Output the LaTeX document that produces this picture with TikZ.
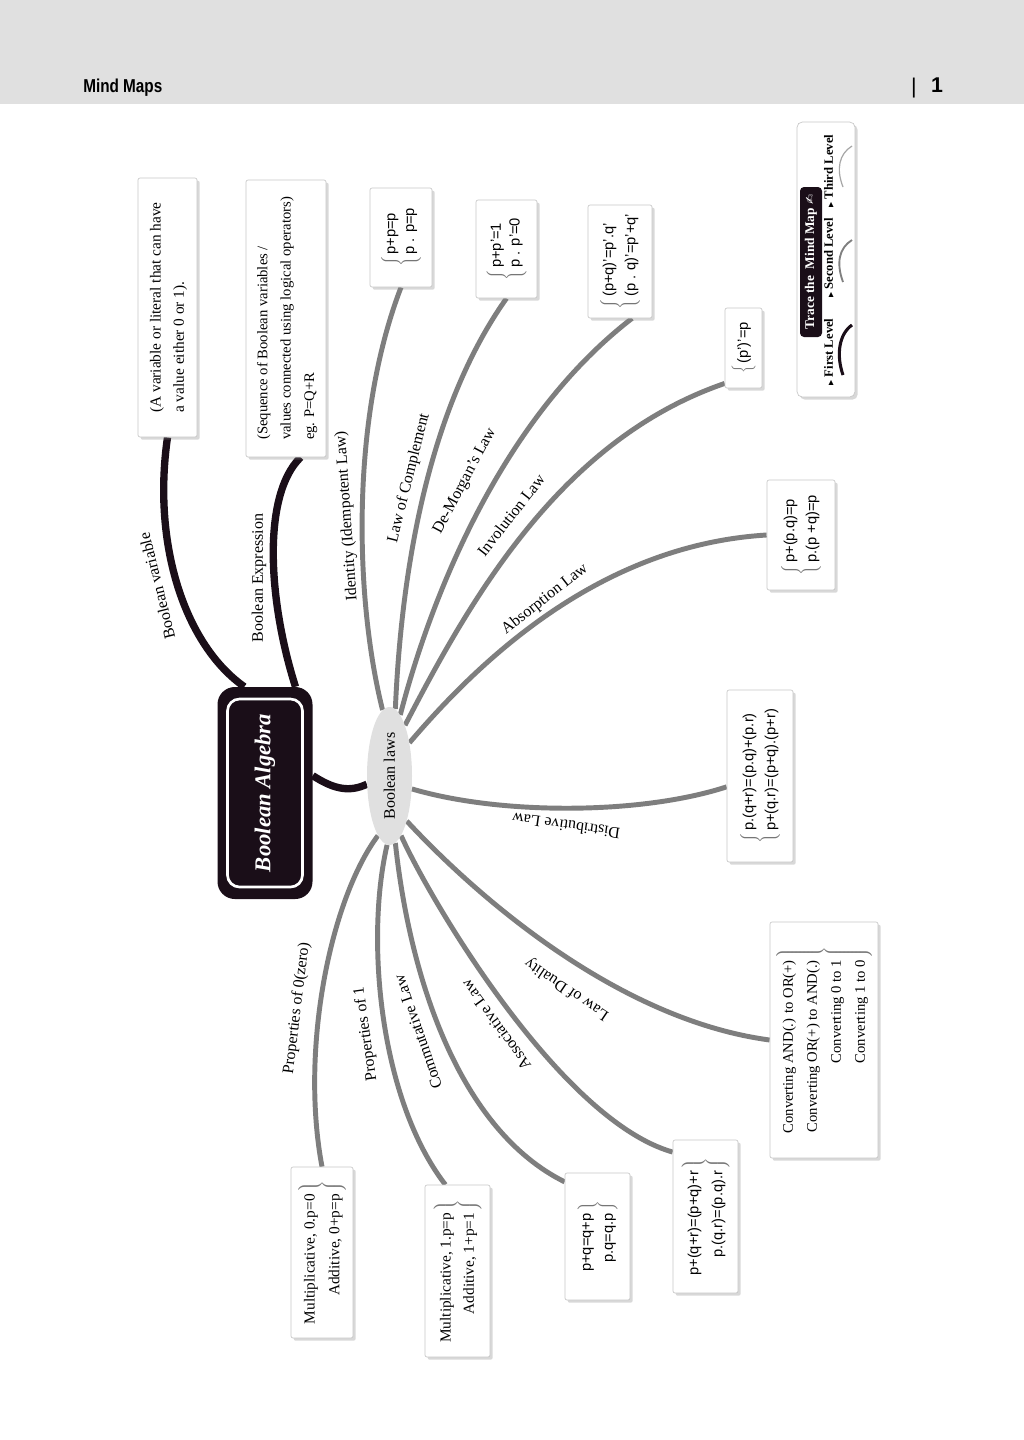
\documentclass[tikz,border=0pt]{standalone}
\usepackage{fontspec}
\setmainfont{Liberation Serif}
\setsansfont{Liberation Sans}
\newfontfamily\symfont{DejaVu Sans}
\usetikzlibrary{shapes.geometric,shadows,backgrounds}
\definecolor{hdr}{HTML}{E0E0E0}
\definecolor{ink}{HTML}{1A0E18}
\definecolor{lnk}{HTML}{7E7E7E}
\definecolor{brc}{HTML}{767676}
\newcommand{\lawL}[1]{\rotatebox{90}{\textcolor{brc}{$\left\{\vphantom{\begin{tabular}{l}#1\end{tabular}}\right.$}\begin{tabular}{@{}l@{}}#1\end{tabular}}}
\newcommand{\lawR}[1]{\rotatebox{90}{\begin{tabular}{@{}r@{}}#1\end{tabular}\textcolor{brc}{$\left.\vphantom{\begin{tabular}{r}#1\end{tabular}}\right\}$}}}
\newcommand{\txtL}[1]{\rotatebox{90}{\begin{tabular}{@{}l@{}}#1\end{tabular}}}
\tikzset{
  box/.style={draw=black!22, fill=white, line width=0.5pt, rounded corners=1.5pt, inner sep=0pt,
    drop shadow={shadow xshift=2pt, shadow yshift=-2pt, opacity=0.3}},
  serif/.style={font=\rmfamily\fontsize{11.5}{17.5}\selectfont},
  sans/.style={font=\sffamily\fontsize{11}{16.5}\selectfont},
  sanst/.style={font=\sffamily\fontsize{11}{14}\selectfont},
  glink/.style={draw=lnk, line width=3.7pt},
  blink/.style={draw=ink, line width=5.5pt},
  lbl/.style={font=\rmfamily\fontsize{12}{14}\selectfont, inner sep=1pt},
  lvl/.style={font=\rmfamily\bfseries\fontsize{9.5}{11}\selectfont, inner sep=0pt}
}
\begin{document}
\begin{tikzpicture}[x=0.75pt, y=-0.75pt]
\useasboundingbox (0,0) rectangle (1024,1440);

% ---------- header ----------
\node[font=\sffamily\bfseries\fontsize{14}{16}\selectfont, anchor=base west, inner sep=0pt] (mm) at (83,92) {\scalebox{0.82}[1]{Mind Maps}};
\node[font=\sffamily\fontsize{16}{18}\selectfont, anchor=base, inner sep=0pt] (bar) at (914,93) {|};
\node[font=\sffamily\bfseries\fontsize{16}{18}\selectfont, anchor=base, inner sep=0pt] (pn) at (937,92) {1};

% ---------- central nodes ----------
\node[fill=ink, rounded corners=13pt, minimum width=95*0.75pt, minimum height=212*0.75pt] (BA) at (265,793) {};
\node[fill=ink, draw=white, line width=2pt, rounded corners=9pt, minimum width=75*0.75pt, minimum height=188*0.75pt, text=white,
      font=\rmfamily\bfseries\itshape\fontsize{17}{19}\selectfont] (BAi) at (265,793) {\rotatebox{90}{Boolean Algebra}};
\node[ellipse, fill=hdr, minimum width=45*0.75pt, minimum height=138*0.75pt, inner sep=0pt, font=\rmfamily\fontsize{12}{14}\selectfont] (bl) at (389.5,776) {\rotatebox{90}{Boolean laws}};

% ---------- first level boxes ----------
\node[box, serif, minimum width=59*0.75pt, minimum height=259*0.75pt] (v) at (167.5,307.5) {\txtL{(A variable or literal that can have\\a value either 0 or 1).}};
\node[box, font=\rmfamily\fontsize{11}{17.5}\selectfont, minimum width=80*0.75pt, minimum height=277*0.75pt] (e) at (286,318.5) {\txtL{(Sequence of Boolean variables /\\values connected using logical operators)\\eg. P=Q+R}};

% ---------- law boxes ----------
\node[box, sanst, minimum width=62*0.75pt, minimum height=99*0.75pt]  (A) at (401,237.5) {\lawL{p+p=p\\p . p=p}};
\node[box, sanst, minimum width=61*0.75pt, minimum height=98*0.75pt]  (B) at (506.5,249) {\lawL{p+p'=1\\p . p'=0}};
\node[box, sans, minimum width=64*0.75pt, minimum height=113*0.75pt]  (C) at (620,261.5) {\lawL{(p+q)'=p'.q'\\(p . q)'=p'+q'}};
\node[box, sans, minimum width=37*0.75pt, minimum height=80*0.75pt]   (D) at (743.5,348) {\lawL{(p')'=p}};
\node[box, sans, minimum width=68*0.75pt, minimum height=110*0.75pt]  (E) at (801,535) {\lawL{p+(p.q)=p\\p.(p +q)=p}};
\node[box, sans, minimum width=66*0.75pt, minimum height=172*0.75pt]  (F) at (760,776) {\lawL{p.(q+r)=(p.q)+(p.r)\\p+(q.r)=(p+q).(p+r)}};
\node[box, font=\rmfamily\fontsize{11}{18}\selectfont, minimum width=108*0.75pt, minimum height=236*0.75pt] (G) at (824,1040) {\lawR{Converting AND(.) to OR(+)\\Converting OR(+) to AND(.)\\Converting 0 to 1\\Converting 1 to 0}};
\node[box, font=\sffamily\fontsize{11}{18}\selectfont, minimum width=65*0.75pt, minimum height=153*0.75pt] (H) at (705.5,1216.5) {\lawR{p+(q+r)=(p+q)+r\\p.(q.r)=(p.q).r}};
\node[box, sans, minimum width=65*0.75pt, minimum height=127*0.75pt]  (I) at (597.5,1236.5) {\lawR{p+q=q+p\\p.q=q.p}};
\node[box, serif, minimum width=65*0.75pt, minimum height=172*0.75pt] (J) at (457.5,1271) {\lawR{Multiplicative, 1.p=p\\Additive, 1+p=1}};
\node[box, font=\rmfamily\fontsize{11.5}{18.5}\selectfont, minimum width=62*0.75pt, minimum height=171*0.75pt] (K) at (322,1252.5) {\lawR{Multiplicative, 0.p=0\\Additive, 0+p=p}};

% ---------- branch labels ----------
\node[lbl, rotate=104] (tv) at (157,586) {Boolean variable};
\node[lbl, rotate=90]  (te) at (259,578) {Boolean Expression};
\node[lbl, rotate=94]  (tA) at (347,516) {Identity (Idempotent Law)};
\node[lbl, rotate=76]  (tB) at (409,478) {Law of Complement};
\node[lbl, rotate=62]  (tC) at (465,481) {De-Morgan's Law};
\node[lbl, rotate=52]  (tD) at (511,515) {Involution Law};
\node[lbl, rotate=38]  (tE) at (545,599) {Absorption Law};
\node[lbl, rotate=172] (tF) at (566,826) {Distributive Law};
\node[lbl, rotate=146] (tG) at (567,989) {Law of Duality};
\node[lbl, rotate=126] (tH) at (496,1025) {Associative Law};
\node[lbl, rotate=109] (tI) at (418,1032) {Commutative Law};
\node[lbl, rotate=98]  (tJ) at (366,1034) {Properties of 1};
\node[lbl, rotate=83]  (tK) at (297,1008) {Properties of 0(zero)};

% ---------- legend ----------
\node[box, rounded corners=4pt, minimum width=58*0.75pt, minimum height=275*0.75pt] (leg) at (826,259.5) {};
\node[fill=ink, text=white, rounded corners=3pt, minimum width=22*0.75pt, minimum height=150*0.75pt, inner sep=0pt,
      font=\rmfamily\bfseries\fontsize{10}{12}\selectfont] (tr) at (811,262) {\rotatebox{90}{Trace the\ \ Mind Map {\symfont\fontsize{9}{10}\selectfont ✍}}};
\node[lvl] (l1) at (829,352) {\rotatebox{90}{{\symfont\fontsize{5}{6}\selectfont ▶} First Level}};
\node[lvl] (l2) at (829,258) {\rotatebox{90}{{\symfont\fontsize{5}{6}\selectfont ▶} Second Level}};
\node[lvl] (l3) at (829,171) {\rotatebox{90}{{\symfont\fontsize{5}{6}\selectfont ▶} Third Level}};
\draw[ink, line width=2.3pt] (843,375) .. controls (836,355) and (839,334) .. (852,325);
\draw[black!50, line width=1.4pt] (843,282) .. controls (836,263) and (839,248) .. (852,240);
\draw[black!35, line width=0.9pt] (843,187) .. controls (836,169) and (839,154) .. (852,146);

% ---------- background & connectors ----------
\begin{scope}[on background layer]
  \fill[white] (0,0) rectangle (1024,1440);
  \fill[hdr] (0,0) rectangle (1024,104);
  \draw[blink] (BA.101) .. controls (185,645) and (152,545) .. (v.south);
  \draw[blink] (BA.74) .. controls (268,600) and (262,495) .. (e.-84);
  \draw[blink] (BA.20) .. controls (335,790) and (350,792) .. (bl.200);
  \draw[glink] (bl.96) .. controls (355,600) and (350,420) .. (A.south);
  \draw[glink] (bl.85) .. controls (400,600) and (420,420) .. (B.south);
  \draw[glink] (bl.80) .. controls (430,600) and (500,420) .. (C.-78);
  \draw[glink] (bl.73) .. controls (470,600) and (560,440) .. (D.-118);
  \draw[glink] (bl.59) .. controls (480,660) and (600,545) .. (E.west);
  \draw[glink] (bl.-30) .. controls (500,815) and (640,815) .. (F.198);
  \draw[glink] (bl.-69) .. controls (480,900) and (620,1020) .. (G.west);
  \draw[glink] (bl.-79) .. controls (430,900) and (560,1120) .. (H.117);
  \draw[glink] (bl.-85) .. controls (410,980) and (460,1130) .. (I.121);
  \draw[glink] (bl.-92) .. controls (365,940) and (380,1100) .. (J.98);
  \draw[glink] (bl.-101) .. controls (330,900) and (300,1050) .. (K.north);
\end{scope}
\end{tikzpicture}
\end{document}
